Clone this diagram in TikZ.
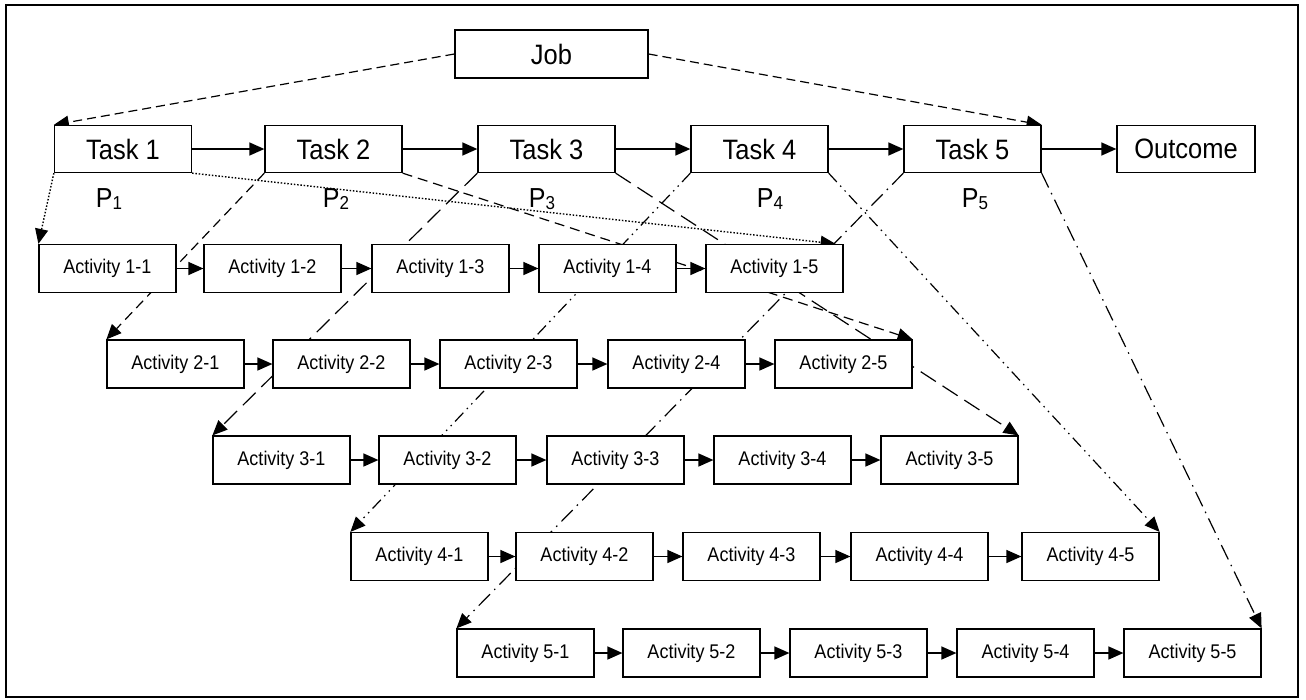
\documentclass[tikz,border=0pt]{standalone}
\usepackage{fontspec}
\setmainfont{Liberation Sans}
\usetikzlibrary{arrows.meta,backgrounds}
% slightly tall lettering for the box labels
\newcommand{\tall}[1]{\scalebox{1}[1.1]{#1}}
\newcommand{\plab}[1]{\tall{P{\fontsize{17}{17}\selectfont\raisebox{-2pt}{#1}}}}
\begin{document}
\begin{tikzpicture}[x=1pt,y=-1pt,
  tip/.style={-{Triangle[length=15pt,width=13pt]}},
  bigbox/.style={draw, line width=1.3pt, fill=white, inner sep=0pt,
    minimum width=137pt, minimum height=47pt,
    font=\fontsize{25.5}{30}\selectfont},
  actbox/.style={draw, line width=1.2pt, fill=white, inner sep=0pt,
    minimum width=137pt, minimum height=48pt,
    font=\fontsize{18}{21}\selectfont},
  plabel/.style={inner sep=0pt, font=\fontsize{25}{30}\selectfont},
  flow/.style={tip, line width=1.4pt},
  jobline/.style={tip, line width=1.2pt, dash pattern=on 9pt off 5pt},
  tone/.style={tip, line width=1.4pt, dash pattern=on 1.5pt off 1.8pt},
  ttwo/.style={tip, line width=1.2pt, dash pattern=on 10pt off 6pt},
  tthree/.style={tip, line width=1.2pt, dash pattern=on 18pt off 8pt},
  tfour/.style={tip, line width=1.2pt, dash pattern=on 12pt off 5pt on 1.5pt off 5pt on 1.5pt off 5pt},
  tfive/.style={tip, line width=1.2pt, dash pattern=on 16pt off 6pt on 1.5pt off 6pt},
]
\useasboundingbox (0,0) rectangle (1306,699);
\draw[line width=1.6pt] (6,5) rectangle (1298,697);

% top level
\node[bigbox, minimum width=193pt, minimum height=48pt] (job) at (551.5,54) {\tall{Job}};
\node[bigbox] (t1) at (123,149) {\tall{Task 1}};
\node[bigbox] (t2) at (333.5,149) {\tall{Task 2}};
\node[bigbox] (t3) at (546.5,149) {\tall{Task 3}};
\node[bigbox] (t4) at (759.5,149) {\tall{Task 4}};
\node[bigbox] (t5) at (972.5,149) {\tall{Task 5}};
\node[bigbox, minimum width=138pt] (out) at (1186,149) {\tall{Outcome}};

% P labels
\node[plabel] (p1) at (109,199) {\plab{1}};
\node[plabel] (p2) at (336,199) {\plab{2}};
\node[plabel] (p3) at (542,199) {\plab{3}};
\node[plabel] (p4) at (770,199) {\plab{4}};
\node[plabel] (p5) at (975,199) {\plab{5}};

% activity rows
\node[actbox] (a11) at (107.5,268.5) {\tall{Activity 1-1}};
\node[actbox] (a12) at (272.5,268.5) {\tall{Activity 1-2}};
\node[actbox] (a13) at (440.5,268.5) {\tall{Activity 1-3}};
\node[actbox] (a14) at (607.5,268.5) {\tall{Activity 1-4}};
\node[actbox] (a15) at (774.5,268.5) {\tall{Activity 1-5}};

\node[actbox] (a21) at (175.5,364) {\tall{Activity 2-1}};
\node[actbox] (a22) at (341.5,364) {\tall{Activity 2-2}};
\node[actbox] (a23) at (508.5,364) {\tall{Activity 2-3}};
\node[actbox] (a24) at (676.5,364) {\tall{Activity 2-4}};
\node[actbox] (a25) at (843.5,364) {\tall{Activity 2-5}};

\node[actbox] (a31) at (281.5,460) {\tall{Activity 3-1}};
\node[actbox] (a32) at (447.5,460) {\tall{Activity 3-2}};
\node[actbox] (a33) at (615.5,460) {\tall{Activity 3-3}};
\node[actbox] (a34) at (782.5,460) {\tall{Activity 3-4}};
\node[actbox] (a35) at (949.5,460) {\tall{Activity 3-5}};

\node[actbox] (a41) at (419.5,556.5) {\tall{Activity 4-1}};
\node[actbox] (a42) at (584.5,556.5) {\tall{Activity 4-2}};
\node[actbox] (a43) at (751.5,556.5) {\tall{Activity 4-3}};
\node[actbox] (a44) at (919.5,556.5) {\tall{Activity 4-4}};
\node[actbox] (a45) at (1090.5,556.5) {\tall{Activity 4-5}};

\node[actbox] (a51) at (525.5,653) {\tall{Activity 5-1}};
\node[actbox] (a52) at (691.5,653) {\tall{Activity 5-2}};
\node[actbox] (a53) at (858.5,653) {\tall{Activity 5-3}};
\node[actbox] (a54) at (1025.5,653) {\tall{Activity 5-4}};
\node[actbox] (a55) at (1192.5,653) {\tall{Activity 5-5}};

% sequence arrows
\draw[flow] (t1) -- (t2);
\draw[flow] (t2) -- (t3);
\draw[flow] (t3) -- (t4);
\draw[flow] (t4) -- (t5);
\draw[flow] (t5) -- (out);
\foreach \r in {1,...,5}{
  \foreach \c/\n in {1/2,2/3,3/4,4/5}{
    \draw[flow] (a\r\c.east) -- (a\r\n.west);
  }
}

% breakdown links, drawn behind the boxes
\begin{pgfonlayer}{background}
\draw[jobline] (job.west) -- (t1.north west);
\draw[jobline] (job.east) -- (t5.north east);
\draw[tone] (t1.south west) -- (a11.north west);
\draw[tone] (t1.south east) -- ([xshift=-8pt]a15.north east);
\draw[ttwo] (t2.south west) -- (a21.north west);
\draw[ttwo] (t2.south east) -- (a25.north east);
\draw[tthree] (t3.south west) -- (a31.north west);
\draw[tthree] (t3.south east) -- (a35.north east);
\draw[tfour] (t4.south west) -- (a41.north west);
\draw[tfour] (t4.south east) -- (a45.north east);
\draw[tfive] (t5.south west) -- (a51.north west);
\draw[tfive] (t5.south east) -- (a55.north east);
\end{pgfonlayer}
\end{tikzpicture}
\end{document}
